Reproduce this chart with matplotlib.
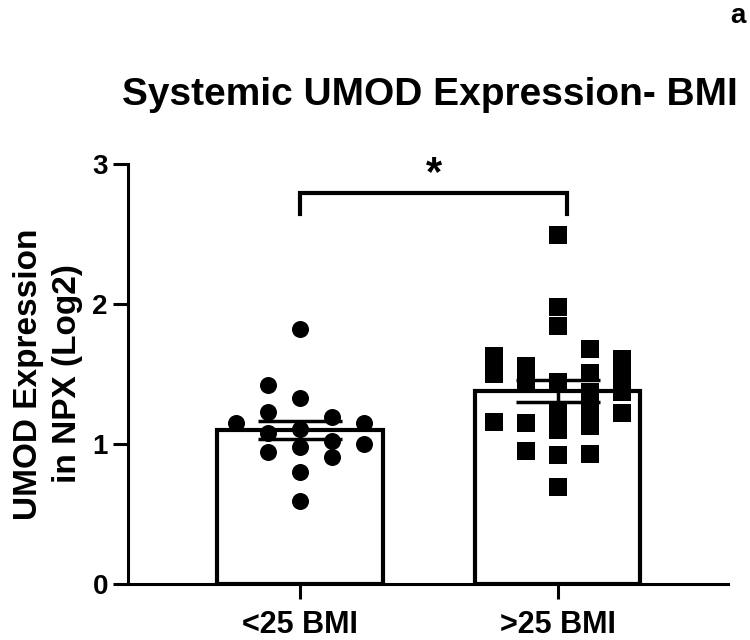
import numpy as np
import matplotlib
matplotlib.use('Agg')
import matplotlib.pyplot as plt

plt.rcParams['font.family'] = ['Liberation Sans', 'DejaVu Sans']
plt.rcParams['font.weight'] = 'bold'

groups = ['<25 BMI', '>25 BMI']
means = [1.10, 1.38]
sems = [0.065, 0.08]

# points: (column offset step, value)
low_cols = [0, -1, 0, -1, -2, 1, 2, 0, -1, 2, 1, 0, -1, 1, 0, 0]
low_vals = [1.82, 1.42, 1.33, 1.23, 1.15, 1.19, 1.15, 1.11, 1.08, 1.00, 1.02, 0.98, 0.94, 0.91, 0.80, 0.59]

high_cols = [0, 0, 0, -2, -2, -1, 1, 1, 2, 2, 2, 2, -1, 0, 1, 1, 1, 1, 0, 0, 0, 0, -2, -1, -1]
high_vals = [2.49, 1.98, 1.84, 1.63, 1.50, 1.56, 1.68, 1.51, 1.61, 1.48, 1.37, 1.22, 1.44, 1.44,
             1.37, 1.25, 1.13, 0.93, 1.22, 1.10, 0.92, 0.69, 1.16, 1.15, 0.95]

fig = plt.figure(figsize=(7.5, 6.4), dpi=100)
ax = fig.add_axes([0.1707, 0.0875, 0.80, 0.65625])

x = np.arange(len(groups))
ax.bar(x, means, width=0.64, color='white', edgecolor='black', linewidth=3, zorder=1)

step = 0.124
ax.scatter(x[0] + np.array(low_cols) * step, low_vals, s=150, marker='o', color='black', zorder=3, linewidths=0)
ax.scatter(x[1] + np.array(high_cols) * step, high_vals, s=150, marker='s', color='black', zorder=3, linewidths=0)

ax.errorbar(x, means, yerr=sems, fmt='none', ecolor='black', elinewidth=2.5,
            capsize=30, capthick=2.5, zorder=4)

# significance bracket
ax.plot([0, 0, 1.035, 1.035], [2.64, 2.79, 2.79, 2.64], color='black', lw=3, zorder=5,
        solid_joinstyle='miter', clip_on=False)
ax.text(0.52, 2.93, '*', ha='center', va='center', fontsize=30, fontweight='bold')

ax.set_xlim(-0.667, 1.66)
ax.set_ylim(0, 3)
ax.set_yticks([0, 1, 2, 3])
ax.set_xticks(x)
ax.set_xticklabels(groups, fontsize=22, fontweight='bold')
ax.tick_params(axis='y', labelsize=20, width=2.2, length=11)
ax.tick_params(axis='x', width=2.2, length=11, pad=8)
for lab in ax.get_yticklabels():
    lab.set_fontweight('bold')

for s in ['top', 'right']:
    ax.spines[s].set_visible(False)
for s in ['left', 'bottom']:
    ax.spines[s].set_linewidth(2.2)

ylab = ax.set_ylabel('UMOD Expression\nin NPX (Log2)', fontsize=24, fontweight='bold', labelpad=7)
ylab.set_linespacing(1.3)

fig.text(0.573, 0.852, 'Systemic UMOD Expression- BMI', ha='center', va='center',
         fontsize=28, fontweight='bold')
fig.text(0.984, 0.975, 'a', ha='center', va='center', fontsize=20, fontweight='bold')

fig.savefig('out.png', dpi=100)
